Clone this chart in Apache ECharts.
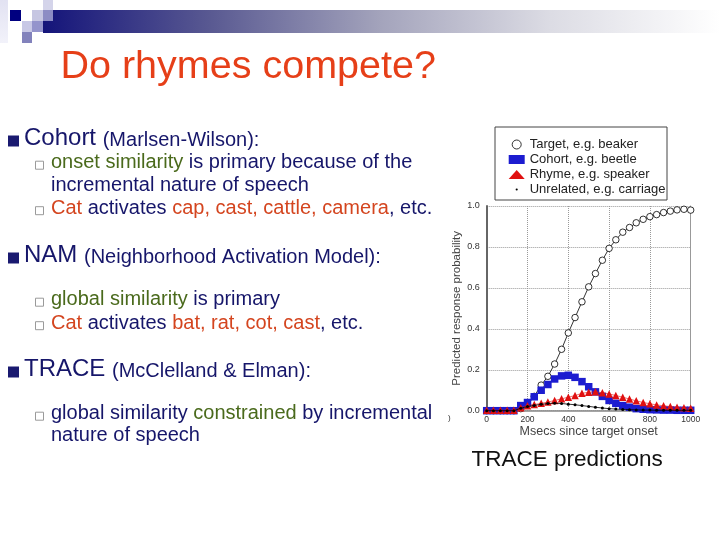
<!DOCTYPE html>
<html>
<head>
<meta charset="utf-8">
<script src="https://cdn.jsdelivr.net/npm/echarts@6/dist/echarts.min.js"></script>
<style>
html,body{margin:0;padding:0;background:#fff;}
#c{width:720px;height:540px;}
</style>
</head>
<body>
<div id="c"></div>
<script>
// ---- data ----
var msecs = [0,33,67,100,133,167,200,233,267,300,333,367,400,433,467,500,533,567,600,633,667,700,733,767,800,833,867,900,933,967,1000];
var target = [0,0,0,0,0,0.01,0.03,0.07,0.125,0.168,0.228,0.30,0.38,0.455,0.532,0.605,0.67,0.735,0.793,0.835,0.872,0.895,0.918,0.935,0.948,0.958,0.968,0.975,0.981,0.984,0.98];
var cohort = [0,0,0,0,0,0.025,0.04,0.068,0.10,0.128,0.155,0.170,0.173,0.163,0.142,0.117,0.092,0.07,0.05,0.036,0.025,0.017,0.01,0.007,0.005,0.004,0.003,0.003,0.002,0.002,0.002];
var rhyme = [0.002,0.002,0.002,0.002,0.002,0.015,0.024,0.03,0.036,0.042,0.05,0.058,0.066,0.074,0.085,0.09,0.092,0.088,0.082,0.074,0.066,0.057,0.048,0.04,0.034,0.028,0.024,0.02,0.017,0.014,0.012];
var unrelated = [0,0,0,0,0,0.012,0.02,0.026,0.031,0.035,0.037,0.035,0.032,0.029,0.025,0.021,0.017,0.013,0.01,0.008,0.006,0.005,0.004,0.003,0.003,0.002,0.002,0.002,0.002,0.002,0.002];
var seriesNames = ['Target, e.g. beaker','Cohort, e.g. beetle','Rhyme, e.g. speaker','Unrelated, e.g. carriage'];
var xTickLabels = ['0','200','400','600','800','1000'];
var yTickLabels = ['0.0','0.2','0.4','0.6','0.8','1.0'];

function pairs(ys){ return msecs.map(function(x,i){ return [x, ys[i]]; }); }

var FONT = '"Liberation Sans", Arial, Helvetica, sans-serif';
var NAVY = '#16166a', GREEN = '#4a6a1c', RED = '#d4451f';

var rich = {
  N: {fontSize:24, fill:NAVY, fontFamily:FONT, verticalAlign:'bottom'},
  n: {fontSize:20, fill:NAVY, fontFamily:FONT, verticalAlign:'bottom'},
  g: {fontSize:20, fill:GREEN, fontFamily:FONT, verticalAlign:'bottom'},
  r: {fontSize:20, fill:RED, fontFamily:FONT, verticalAlign:'bottom'}
};
function line(x, base, runs){
  return {
    type:'text', x:x, y:base + 4.5, z:10,
    style:{
      text: runs.map(function(r){ return '{' + r[0] + '|' + r[1] + '}'; }).join(''),
      rich: rich, align:'left', verticalAlign:'bottom', fontFamily:FONT, fill:NAVY
    }
  };
}
function mainBullet(base){
  return {type:'rect', shape:{x:8, y:base-10.5, width:11, height:11}, style:{fill:'#1a1a70'}};
}
function subBullet(base){
  return {type:'rect', shape:{x:35.5, y:base-6.8, width:8, height:8}, style:{fill:'#fff', stroke:'#9a9a9a', lineWidth:1}};
}

var graphics = [
  // header decoration
  {type:'rect', shape:{x:0,y:0,width:8,height:43}, style:{fill:{type:'linear',x:0,y:0,x2:0,y2:1,colorStops:[{offset:0,color:'#e2e2f2'},{offset:1,color:'#f2f2fa'}]}}},
  {type:'rect', shape:{x:43,y:10,width:677,height:23}, style:{fill:{type:'linear',x:0,y:0,x2:1,y2:0,colorStops:[
    {offset:0,color:'#14147a'},{offset:0.25,color:'#5a5a92'},{offset:0.5,color:'#a4a4bc'},{offset:0.75,color:'#dcdce4'},{offset:1,color:'#ffffff'}]}}},
  {type:'rect', shape:{x:10,y:10,width:11,height:11}, style:{fill:'#000080'}},
  {type:'rect', shape:{x:43,y:0,width:10,height:10}, style:{fill:'#d4d4ea'}},
  {type:'rect', shape:{x:32,y:10,width:11,height:11}, style:{fill:'#c6c6e2'}},
  {type:'rect', shape:{x:43,y:10,width:10,height:11}, style:{fill:'#8c8cc4'}},
  {type:'rect', shape:{x:22,y:21,width:10,height:11}, style:{fill:'#c8c8e6'}},
  {type:'rect', shape:{x:32,y:21,width:11,height:11}, style:{fill:'#9494cc'}},
  {type:'rect', shape:{x:22,y:32,width:10,height:11}, style:{fill:'#8282bc'}},
  // title
  {type:'text', x:60.5, y:78.5 + 8.3, style:{text:'Do rhymes compete?', fontSize:39.5, fontFamily:FONT, fill:'#e63f18', align:'left', verticalAlign:'bottom'}},
  // bullets
  mainBullet(146), line(24, 146, [['N','Cohort '],['n','(Marlsen-Wilson):']]),
  subBullet(168), line(51, 168, [['g','onset similarity'],['n',' is primary because of the']]),
  line(51, 190.5, [['n','incremental nature of speech']]),
  subBullet(213.5), line(51, 213.5, [['r','Cat'],['n',' activates '],['r','cap, cast, cattle, camera'],['n',', etc.']]),
  mainBullet(263), line(24, 263, [['N','NAM '],['n','(Neighborhood Activation Model):']]),
  subBullet(305), line(51, 305, [['g','global similarity'],['n',' is primary']]),
  subBullet(328.5), line(51, 328.5, [['r','Cat'],['n',' activates '],['r','bat, rat, cot, cast'],['n',', etc.']]),
  mainBullet(377), line(24, 377, [['N','TRACE '],['n','(McClelland & Elman):']]),
  subBullet(419), line(51, 419, [['n','global similarity '],['g','constrained'],['n',' by incremental']]),
  line(51, 441, [['n','nature of speech']]),
  // caption
  {type:'text', x:471.5, y:466 + 4.8, style:{text:'TRACE predictions', fontSize:22.5, fontFamily:FONT, fill:'#111', align:'left', verticalAlign:'bottom'}},
  // legend frame
  {type:'rect', shape:{x:495,y:127,width:172,height:73}, style:{fill:'none', stroke:'#444', lineWidth:1}},
  // stray glyph
  {type:'text', x:448, y:418, style:{text:')', fontSize:8, fontFamily:FONT, fill:'#333', verticalAlign:'middle'}}
];

var chart = echarts.init(document.getElementById('c'), null, {renderer:'canvas'});
chart.setOption({
  animation:false,
  backgroundColor:'#fff',
  textStyle:{fontFamily:FONT},
  grid:{left:486.7, right:29.3, top:206, bottom:129.3, containLabel:false},
  legend:{
    orient:'vertical', left:503.7, top:133, itemWidth:16, itemHeight:9, itemGap:2,
    textStyle:{fontSize:13, color:'#222', lineHeight:13, fontFamily:FONT},
    data:[
      {name:seriesNames[0], icon:'circle', itemStyle:{color:'#fff', borderColor:'#000', borderWidth:0.8}},
      {name:seriesNames[1], icon:'rect', itemStyle:{color:'#1c1cd0'}},
      {name:seriesNames[2], icon:'triangle', itemStyle:{color:'#e01010'}},
      {name:seriesNames[3], icon:'path://M0,0M10,10M3.8,5a1.2,1.2 0 1,0 2.4,0a1.2,1.2 0 1,0 -2.4,0z', itemStyle:{color:'#000'}}
    ]
  },
  xAxis:{
    type:'value', min:0, max:1000, interval:200, offset:2.6,
    axisLine:{show:true, lineStyle:{color:'#888', width:1.5}},
    axisTick:{show:false},
    axisLabel:{fontSize:8.5, color:'#333', margin:2, formatter:function(v){ var i = Math.round(v/200); return xTickLabels[i] !== undefined ? xTickLabels[i] : ''; }},
    splitLine:{show:true, lineStyle:{type:'dotted', color:'#999', width:1}},
    name:'Msecs since target onset', nameLocation:'middle', nameGap:10.5,
    nameTextStyle:{fontSize:12.5, color:'#444'}
  },
  yAxis:[{
    type:'value', min:0, max:1, interval:0.2, offset:4,
    axisLine:{show:true, lineStyle:{color:'#666', width:2}},
    axisTick:{show:false},
    axisLabel:{fontSize:9, color:'#333', margin:3, formatter:function(v){ var i = Math.round(v/0.2); return yTickLabels[i] !== undefined ? yTickLabels[i] : ''; }},
    splitLine:{show:true, lineStyle:{type:'dotted', color:'#999', width:1}},
    name:'Predicted response probability', nameLocation:'middle', nameGap:19,
    nameTextStyle:{fontSize:11.5, color:'#444'}
  },{
    type:'value', min:0, max:1, position:'right',
    axisLine:{show:true, lineStyle:{color:'#999', width:1}},
    axisTick:{show:false}, axisLabel:{show:false}, splitLine:{show:false}
  }],
  series:[
    {name:seriesNames[0], type:'line', z:2, data:pairs(target), clip:false, symbol:'circle', symbolSize:6.5,
      itemStyle:{color:'#fff', borderColor:'#000', borderWidth:0.8}, lineStyle:{color:'#000', width:0.8}},
    {name:seriesNames[1], type:'line', z:3, data:pairs(cohort), clip:false, symbol:'rect', symbolSize:7.5,
      itemStyle:{color:'#1c1cd0'}, lineStyle:{color:'#1c1cd0', width:0.6}},
    {name:seriesNames[2], type:'line', z:4, data:pairs(rhyme), clip:false, symbol:'triangle', symbolSize:7.5,
      itemStyle:{color:'#e01010'}, lineStyle:{color:'#e01010', width:0.6}},
    {name:seriesNames[3], type:'line', z:5, data:pairs(unrelated), clip:false, symbol:'circle', symbolSize:3,
      itemStyle:{color:'#000'}, lineStyle:{color:'#000', width:0.8}}
  ],
  graphic:graphics
});
</script>
</body>
</html>
